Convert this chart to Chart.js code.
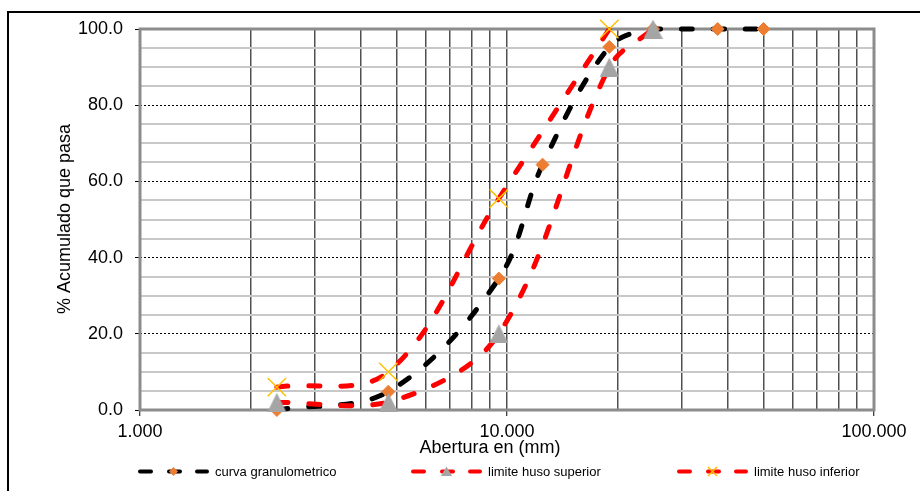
<!DOCTYPE html>
<html>
<head>
<meta charset="utf-8">
<title>Curva granulometrica</title>
<script src="https://cdn.jsdelivr.net/npm/chart.js@4/dist/chart.umd.min.js"></script>
<style>
  html, body { margin: 0; padding: 0; background: #fff; }
  #wrap { width: 920px; height: 491px; overflow: hidden; }
</style>
</head>
<body>
<div id="wrap"><canvas id="granChart" width="920" height="491"></canvas></div>
<script>
// ---- datos ----
const curvaX = [2.36, 4.75, 9.5, 12.5, 19, 25, 37.5, 50];
const curvaY = [0, 4.8, 34.5, 64.4, 95.3, 100, 100, 100];
const superiorX = [2.36, 4.75, 9.5, 19, 25];
const superiorY = [2, 2, 20, 90, 100];
const inferiorX = [2.36, 4.75, 9.5, 19];
const inferiorY = [6, 10, 55.5, 100];

const seriesNames = ['curva granulometrico', 'limite huso superior', 'limite huso inferior'];

// ticks / grilla
const xGrid = [1, 2, 3, 4, 5, 6, 7, 8, 9, 10, 20, 30, 40, 50, 60, 70, 80, 90, 100];
const xLabels = [1, 10, 100];
const yLabels = [0, 20, 40, 60, 80, 100];

const FONT = '"Liberation Sans", Arial, sans-serif';
Chart.defaults.font.family = FONT;
Chart.defaults.color = '#000';

function toPoints(xs, ys) {
  return xs.map((x, i) => ({ x: x, y: ys[i] }));
}

// triangulo gris centrado en su caja (como en Excel)
function makeTriangle(w, h, color) {
  const c = document.createElement('canvas');
  c.width = w; c.height = h;
  const g = c.getContext('2d');
  g.fillStyle = color;
  g.beginPath();
  g.moveTo(w / 2, 0);
  g.lineTo(w, h);
  g.lineTo(0, h);
  g.closePath();
  g.fill();
  return c;
}

const triangulo = makeTriangle(19, 19, '#a5a5a5');

// marco del area de trazado, titulos de ejes y leyenda
const marcoPlugin = {
  id: 'marco',
  beforeDatasetsDraw(chart) {
    const { ctx, chartArea: a } = chart;
    ctx.save();
    ctx.strokeStyle = '#8c8c8c';
    ctx.lineWidth = 3;
    ctx.strokeRect(a.left, a.top, a.right - a.left, a.bottom - a.top);
    ctx.restore();
  },
  afterDraw(chart) {
    const ctx = chart.ctx;
    ctx.save();

    // marco exterior
    ctx.strokeStyle = '#000';
    ctx.lineWidth = 2;
    ctx.strokeRect(8, 12, 1000, 1000);

    // titulos de ejes
    ctx.fillStyle = '#000';
    ctx.font = '18px ' + FONT;
    ctx.textAlign = 'center';
    ctx.textBaseline = 'alphabetic';
    ctx.fillText('Abertura en (mm)', 490, 452.5);
    ctx.save();
    ctx.translate(69.5, 219);
    ctx.rotate(-Math.PI / 2);
    ctx.fillText('% Acumulado que pasa', 0, 0);
    ctx.restore();

    // leyenda
    const starts = [138, 411, 677];
    const y = 471.5;
    ctx.font = '13px ' + FONT;
    ctx.textAlign = 'left';
    chart.data.datasets.forEach((ds, i) => {
      const x0 = starts[i];
      ctx.strokeStyle = ds.borderColor;
      ctx.lineWidth = 4;
      ctx.lineCap = 'round';
      [[2, 13], [31, 42], [59, 69]].forEach(([s, e]) => {
        ctx.beginPath();
        ctx.moveTo(x0 + s, y);
        ctx.lineTo(x0 + e, y);
        ctx.stroke();
      });
      const mx = x0 + 35.5;
      if (i === 0) {
        ctx.fillStyle = '#ed7d31';
        ctx.beginPath();
        ctx.moveTo(mx, y - 4.5); ctx.lineTo(mx + 4.5, y); ctx.lineTo(mx, y + 4.5); ctx.lineTo(mx - 4.5, y);
        ctx.closePath();
        ctx.fill();
      } else if (i === 1) {
        ctx.fillStyle = '#a5a5a5';
        ctx.beginPath();
        ctx.moveTo(mx, y - 5); ctx.lineTo(mx + 5.5, y + 4.5); ctx.lineTo(mx - 5.5, y + 4.5);
        ctx.closePath();
        ctx.fill();
      } else {
        ctx.strokeStyle = '#ffc000';
        ctx.lineWidth = 1.5;
        ctx.lineCap = 'butt';
        ctx.beginPath();
        ctx.moveTo(mx - 4.5, y - 4.5); ctx.lineTo(mx + 4.5, y + 4.5);
        ctx.moveTo(mx + 4.5, y - 4.5); ctx.lineTo(mx - 4.5, y + 4.5);
        ctx.stroke();
      }
      ctx.fillStyle = '#000';
      ctx.fillText(ds.label, x0 + 77, 476);
    });
    ctx.restore();
  }
};

const ctx = document.getElementById('granChart').getContext('2d');

new Chart(ctx, {
  type: 'line',
  data: {
    datasets: [
      {
        label: seriesNames[0],
        data: toPoints(curvaX, curvaY),
        borderColor: '#000000',
        pointStyle: 'rectRot',
        pointRadius: 6.5,
        pointBackgroundColor: '#ed7d31',
        pointBorderColor: '#ed7d31',
        pointBorderWidth: 1,
        order: 3
      },
      {
        label: seriesNames[1],
        data: toPoints(superiorX, superiorY),
        borderColor: '#ff0000',
        pointStyle: triangulo,
        pointRadius: 9,
        order: 2
      },
      {
        label: seriesNames[2],
        data: toPoints(inferiorX, inferiorY),
        borderColor: '#ff0000',
        pointStyle: 'crossRot',
        pointRadius: 13,
        pointBorderColor: '#ffc000',
        pointBackgroundColor: '#ffc000',
        pointBorderWidth: 1.5,
        order: 1
      }
    ]
  },
  options: {
    responsive: false,
    animation: false,
    layout: { padding: { top: 29, right: 46, left: 0, bottom: 0 } },
    datasets: {
      line: {
        borderWidth: 5,
        borderDash: [11, 21],
        borderCapStyle: 'round',
        tension: 0.35,
        fill: false,
        clip: false
      }
    },
    plugins: {
      legend: { display: false },
      tooltip: { enabled: false }
    },
    scales: {
      x: {
        type: 'logarithmic',
        min: 1,
        max: 100,
        afterFit: s => { s.height = 81; },
        afterBuildTicks: s => { s.ticks = xGrid.map(v => ({ value: v })); },
        ticks: {
          autoSkip: false,
          maxRotation: 0,
          minRotation: 0,
          padding: 5,
          color: '#000',
          font: { size: 18 },
          callback: v => xLabels.includes(v) ? v.toFixed(3) : ''
        },
        grid: {
          color: '#505050',
          lineWidth: 1.5,
          tickLength: 6,
          tickWidth: 1,
          tickColor: c => (c.tick && xLabels.includes(c.tick.value)) ? '#000' : 'rgba(0,0,0,0)'
        },
        border: { display: false }
      },
      y: {
        min: 0,
        max: 100,
        afterFit: s => { s.width = 140; },
        ticks: {
          stepSize: 5,
          autoSkip: false,
          padding: 12,
          color: '#000',
          font: { size: 18 },
          callback: v => yLabels.includes(v) ? v.toFixed(1) : ''
        },
        grid: {
          color: c => {
            const v = c.tick ? c.tick.value : 0;
            if (v === 0 || v === 100) return 'rgba(0,0,0,0)';
            return v % 20 === 0 ? '#000' : '#c8c8c8';
          },
          lineWidth: c => (c.tick && c.tick.value % 20 === 0) ? 1 : 2,
          tickLength: 5,
          tickWidth: 1,
          tickColor: c => (c.tick && yLabels.includes(c.tick.value)) ? '#000' : 'rgba(0,0,0,0)'
        },
        border: {
          display: false,
          dash: c => (c.tick && c.tick.value % 20 === 0) ? [2, 2] : []
        }
      }
    }
  },
  plugins: [marcoPlugin]
});
</script>
</body>
</html>
